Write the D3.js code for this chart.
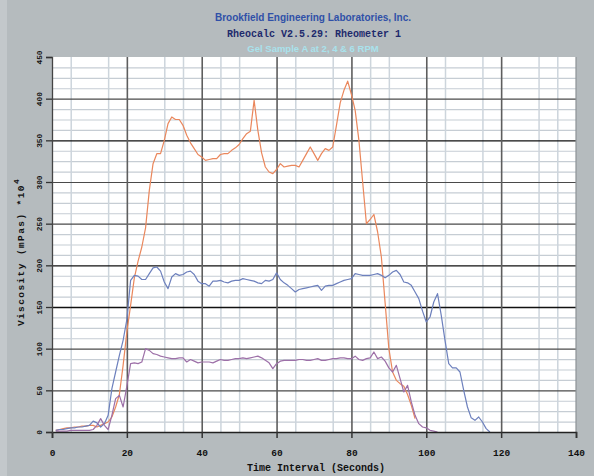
<!DOCTYPE html>
<html>
<head>
<meta charset="utf-8">
<script src="https://cdn.jsdelivr.net/npm/d3@7/dist/d3.min.js"></script>
<style>
  html, body { margin: 0; padding: 0; background: #b5bbbe; }
  svg { display: block; }
</style>
</head>
<body>
<svg id="chart" width="594" height="476"></svg>
<script>
// ---- data ----
const titleLines = ["Brookfield Engineering Laboratories, Inc.", "Rheocalc V2.5.29: Rheometer 1", "Gel Sample A at 2, 4 & 6 RPM"];
const xTicks = [0, 20, 40, 60, 80, 100, 120, 140];
const xMinorTicks = [5, 15, 30, 35, 45, 50, 65, 75, 85, 90, 105, 115, 130, 135];
const yTicks = [0, 50, 100, 150, 200, 250, 300, 350, 400, 450];
const yStrongTicks = [150, 200, 350];
const yMinorTicks = [12.5, 25, 37.5, 62.5, 75, 87.5, 112.5, 125, 137.5, 162.5, 175, 187.5, 212.5, 225, 237.5, 262.5, 275, 287.5, 312.5, 325, 337.5, 362.5, 375, 387.5, 412.5, 425, 437.5];

const seconds = d3.range(1, 118); // 1 .. 117

const orangeSeries = [2,3,4,5,5,6,6,7,7,8,8,6,8,10,12,18,30,45,80,120,
  152,185,205,222,245,290,322,334,334,350,370,378,375,375,368,356,347,340,333,330,
  326,327,328,328,333,334,334,338,341,345,352,358,361,398,362,335,318,312,310,315,
  322,318,319,320,320,318,326,334,342,334,326,334,340,338,342,368,395,410,421,405,
  386,350,300,250,255,261,240,210,155,100,72,62,58,55,45,32,16];

const blueSeries = [2,3,3,4,5,5,6,6,7,8,13,11,6,10,20,52,72,92,110,135,
  182,188,187,183,183,190,197,198,193,180,172,186,190,188,189,192,193,189,181,178,
  178,175,181,181,182,180,179,181,182,182,184,183,182,181,179,178,182,181,183,191,
  183,179,176,172,168,171,172,173,174,175,176,170,175,176,176,178,180,182,183,184,
  190,189,188,188,188,189,190,188,185,188,192,194,189,180,179,176,168,160,145,132,
  138,156,166,140,110,82,77,77,72,50,30,17,14,18,12,4,0];

const purpleSeries = [1,1,1,1,2,2,2,2,2,2,3,8,16,8,3,20,40,44,30,55,
  82,83,82,84,100,98,94,93,91,90,89,88,88,89,89,84,87,85,83,84,
  84,84,83,85,87,86,86,87,88,88,89,88,89,90,91,89,86,83,76,82,
  85,86,86,86,86,87,87,86,86,87,88,86,86,87,88,88,89,89,88,88,
  91,87,86,88,89,96,88,90,85,77,72,80,64,48,56,36,20,10,6,5,
  2,1,0];

const seriesNames = ["2 RPM", "4 RPM", "6 RPM"];
const seriesColors = ["#ea875c", "#6d80bd", "#9d70a8"];
const seriesValues = [orangeSeries, blueSeries, purpleSeries];

// ---- layout ----
const svg = d3.select("#chart");
const W = 594, H = 476;
const plot = { left: 52, right: 576, top: 57, bottom: 432 };

svg.append("rect").attr("x", 0).attr("y", 0).attr("width", W).attr("height", H).attr("fill", "#b5bbbe");
svg.append("rect").attr("x", 0).attr("y", 0).attr("width", 7).attr("height", H).attr("fill", "#c3c8cb");

const x = d3.scaleLinear().domain([0, 140]).range([plot.left, plot.right]);
const y = d3.scaleLinear().domain([0, 450]).range([plot.bottom, plot.top]);

// plot background
svg.append("rect")
  .attr("x", x(0)).attr("y", y(450))
  .attr("width", x(140) - x(0)).attr("height", y(0) - y(450))
  .attr("fill", "#ffffff");

const plotH = y(0) - y(450), plotW = x(140) - x(0);

function gridAxis(gen, transform, stroke, width) {
  const g = svg.append("g").attr("transform", transform).call(gen);
  g.select(".domain").remove();
  g.selectAll("text").remove();
  g.selectAll("line").attr("stroke", stroke).attr("stroke-width", width);
  return g;
}

// minor grids
gridAxis(d3.axisLeft(y).tickValues(yMinorTicks).tickSize(-plotW), `translate(${x(0)},0)`, "#c6cdd4", 1.2);
gridAxis(d3.axisBottom(x).tickValues(xMinorTicks).tickSize(-plotH), `translate(0,${y(0)})`, "#cdd5dc", 1.5);
// major grids
gridAxis(d3.axisLeft(y).tickValues(yTicks.filter(v => v > 0 && v < 450 && !yStrongTicks.includes(v))).tickSize(-plotW), `translate(${x(0)},0)`, "#4a4a4a", 1.1);
gridAxis(d3.axisLeft(y).tickValues(yStrongTicks).tickSize(-plotW), `translate(${x(0)},0)`, "#111111", 1.4);
gridAxis(d3.axisBottom(x).tickValues(xTicks.filter(v => v > 0 && v < 140)).tickSize(-plotH), `translate(0,${y(0)})`, "#5e5e5e", 1.6);

// right frame
svg.append("line").attr("x1", x(140)).attr("x2", x(140)).attr("y1", y(450)).attr("y2", y(0))
  .attr("stroke", "#8d9396").attr("stroke-width", 1.2);

// ---- series ----
const line = d3.line()
  .defined(d => d[1] !== null && d[1] !== undefined)
  .x(d => x(d[0]))
  .y(d => y(d[1]));

seriesValues.forEach((vals, i) => {
  const pts = vals.map((v, j) => [seconds[j], v]);
  svg.append("path")
    .datum(pts)
    .attr("fill", "none")
    .attr("stroke", seriesColors[i])
    .attr("stroke-width", 1.2)
    .attr("stroke-linejoin", "round")
    .attr("d", line)
    .append("title").text(seriesNames[i]);
});

// ---- axes ----
const monoFont = "'Liberation Mono', 'Courier New', monospace";

const xAxis = svg.append("g").attr("transform", `translate(0,${y(0)})`)
  .call(d3.axisBottom(x).tickValues(xTicks).tickSize(6).tickPadding(11).tickFormat(d3.format("d")));
xAxis.select(".domain").attr("stroke", "#222").attr("stroke-width", 1.5);
xAxis.selectAll(".tick line").attr("stroke", "#333").attr("stroke-width", 1.5);
xAxis.selectAll("text")
  .attr("font-family", monoFont).attr("font-weight", "bold").attr("font-size", 9.5).attr("fill", "#111");

const yAxis = svg.append("g").attr("transform", `translate(${x(0)},0)`)
  .call(d3.axisLeft(y).tickValues(yTicks).tickSize(6).tickFormat(d3.format("d")));
yAxis.select(".domain").attr("stroke", "#444").attr("stroke-width", 1.3);
yAxis.selectAll(".tick line").attr("stroke", "#333").attr("stroke-width", 1.3);
yAxis.selectAll(".tick text")
  .attr("x", null).attr("dy", null)
  .attr("text-anchor", "middle")
  .attr("transform", "translate(-10,0) rotate(-90)")
  .attr("font-family", monoFont).attr("font-weight", "bold").attr("font-size", 7.8).attr("fill", "#111");

// axis titles
svg.append("text")
  .attr("x", (x(0) + x(140)) / 2 + 2).attr("y", 471)
  .attr("text-anchor", "middle")
  .attr("font-family", monoFont).attr("font-weight", "bold").attr("font-size", 10).attr("fill", "#111")
  .text("Time Interval (Seconds)");

const yl = svg.append("text")
  .attr("transform", "translate(24,252) rotate(-90)")
  .attr("text-anchor", "middle")
  .attr("font-family", monoFont).attr("font-weight", "bold").attr("font-size", 9.5).attr("fill", "#111")
  .attr("letter-spacing", 1.4);
yl.append("tspan").text("Viscosity (mPas) *10");
yl.append("tspan").attr("dy", -5).attr("font-size", 8).text("4");

// ---- titles ----
svg.append("text").attr("x", 313).attr("y", 20.5).attr("text-anchor", "middle")
  .attr("font-family", "'Liberation Sans', Arial, sans-serif").attr("font-weight", "bold")
  .attr("font-size", 10).attr("fill", "#2f50a8").text(titleLines[0]);
svg.append("text").attr("x", 314).attr("y", 37).attr("text-anchor", "middle")
  .attr("font-family", monoFont).attr("font-weight", "bold")
  .attr("font-size", 10).attr("fill", "#1e2a6c").text(titleLines[1]);
svg.append("text").attr("x", 313).attr("y", 51.5).attr("text-anchor", "middle")
  .attr("font-family", "'Liberation Sans', Arial, sans-serif").attr("font-weight", "bold")
  .attr("font-size", 9.5).attr("fill", "#a9e2ec").text(titleLines[2]);
</script>
</body>
</html>
